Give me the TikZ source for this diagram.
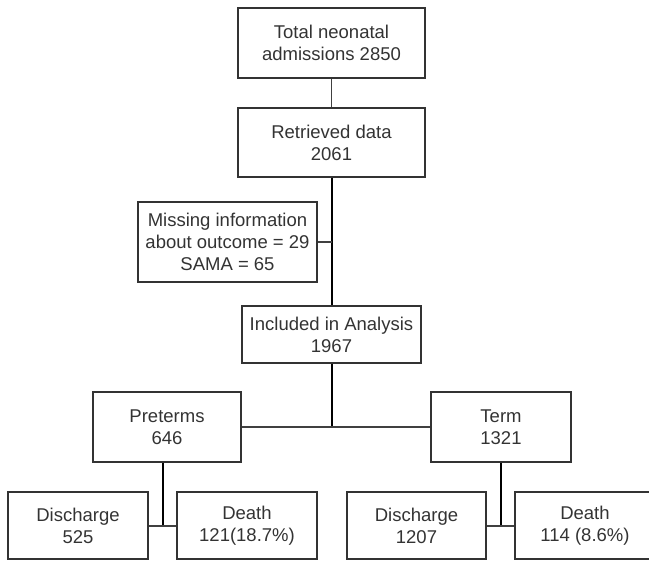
\documentclass[tikz,border=0pt]{standalone}
\usepackage{fontspec}
\setmainfont{Liberation Sans}
\begin{document}
\begin{tikzpicture}[x=1pt,y=-1pt,
  box/.style={draw=black!80, line width=1.2pt, text=black!80, align=center,
    inner sep=0pt, font=\fontsize{18.5}{22}\selectfont},
  thin/.style={draw=black!75, line width=1.1pt},
  thick/.style={draw=black, line width=2pt}]
\useasboundingbox (0,0) rectangle (649,561);
\node[box, minimum width=187pt, minimum height=70pt] (tot) at (331.5,43) {Total neonatal\\admissions 2850};
\node[box, minimum width=187pt, minimum height=69pt] (ret) at (331.5,142.5) {Retrieved data\\2061};
\node[box, minimum width=179pt, minimum height=80pt] (mis) at (227.5,242) {Missing information\\about outcome = 29\\SAMA = 65};
\node[box, minimum width=179pt, minimum height=57pt] (inc) at (331.5,334.5) {Included in Analysis\\1967};
\node[box, minimum width=148pt, minimum height=70pt] (pre) at (167,427) {Preterms\\646};
\node[box, minimum width=140pt, minimum height=70pt] (ter) at (501,427) {Term\\1321};
\node[box, minimum width=140pt, minimum height=67pt] (dis1) at (78,525.5) {Discharge\\525};
\node[box, minimum width=140pt, minimum height=67pt] (dea1) at (247,525.5) {Death\\121(18.7\%)};
\node[box, minimum width=139pt, minimum height=67pt] (dis2) at (416.5,525.5) {Discharge\\1207};
\node[box, minimum width=140pt, minimum height=67pt] (dea2) at (585,525.5) {Death\\114 (8.6\%)};
\coordinate (split) at (331.5,427);
\coordinate (p1) at (163,526);
\coordinate (t1) at (501,526);
\draw[thin] (tot.south) -- (ret.north);
\draw[thick] (ret.south) -- (inc.north);
\draw[thin] (mis.east) -- (mis.east -| ret.south);
\draw[thick] (inc.south) -- (split);
\draw[thin] (pre.east) -- (ter.west);
\draw[thick] (pre.south -| p1) -- (p1);
\draw[thin] (dis1.east |- p1) -- (dea1.west |- p1);
\draw[thick] (ter.south) -- (t1);
\draw[thin] (dis2.east |- t1) -- (dea2.west |- t1);
\end{tikzpicture}
\end{document}
